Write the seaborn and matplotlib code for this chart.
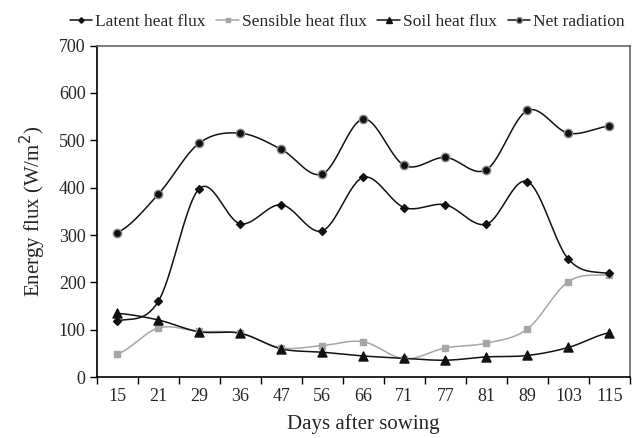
import numpy as np
import pandas as pd
import matplotlib
matplotlib.use("Agg")
import matplotlib.pyplot as plt
import seaborn as sns
from matplotlib.lines import Line2D

days = ["15", "21", "29", "36", "47", "56", "66", "71", "77", "81", "89", "103", "115"]
latent = [119, 160, 398, 324, 364, 309, 422, 358, 364, 323, 413, 249, 219]
sensible = [49, 104, 97, 93, 62, 67, 75, 39, 62, 72, 102, 202, 216]
soil = [135, 121, 96, 93, 60, 53, 45, 40, 36, 43, 46, 63, 94]
net = [305, 386, 494, 515, 481, 429, 545, 447, 464, 438, 563, 515, 530]

sns.set_theme(style="white")
plt.rcParams["font.family"] = ["Liberation Serif", "DejaVu Serif"]

df = pd.DataFrame({"day": days, "Latent heat flux": latent,
                   "Sensible heat flux": sensible,
                   "Soil heat flux": soil, "Net radiation": net})
df["pos"] = np.arange(len(days))


def smooth(x, y, n=30, tension=0.5):
    """Cardinal (Catmull-Rom style) spline through the points for a smoothed line."""
    x = np.asarray(x, float)
    y = np.asarray(y, float)
    px = np.concatenate([[2 * x[0] - x[1]], x, [2 * x[-1] - x[-2]]])
    py = np.concatenate([[y[0]], y, [y[-1]]])
    xs, ys = [], []
    for i in range(1, len(px) - 2):
        t = np.linspace(0, 1, n, endpoint=(i == len(px) - 3))
        m1x = tension * (px[i + 1] - px[i - 1])
        m2x = tension * (px[i + 2] - px[i])
        m1y = tension * (py[i + 1] - py[i - 1])
        m2y = tension * (py[i + 2] - py[i])
        h00 = 2 * t**3 - 3 * t**2 + 1
        h10 = t**3 - 2 * t**2 + t
        h01 = -2 * t**3 + 3 * t**2
        h11 = t**3 - t**2
        xs.append(h00 * px[i] + h10 * m1x + h01 * px[i + 1] + h11 * m2x)
        ys.append(h00 * py[i] + h10 * m1y + h01 * py[i + 1] + h11 * m2y)
    return np.concatenate(xs), np.concatenate(ys)


fig = plt.figure(figsize=(6.37, 4.38), dpi=100)
ax = fig.add_axes([0.1518, 0.1386, 0.8372, 0.7575])

styles = {
    "Latent heat flux": dict(color="#111111", marker="D", ms=4, mfc="#111111", mec="#111111", lw=1.1),
    "Sensible heat flux": dict(color="#a6a6a6", marker="s", ms=5, mfc="#a6a6a6", mec="#a6a6a6", lw=1.1),
    "Soil heat flux": dict(color="#111111", marker="^", ms=6.5, mfc="#111111", mec="#111111", lw=1.1),
    "Net radiation": dict(color="#111111", marker="o", ms=6, mfc="#111111", mec="#8a8a8a", lw=1.1),
}

order = ["Sensible heat flux", "Soil heat flux", "Latent heat flux", "Net radiation"]
for name in order:
    st = styles[name]
    sx, sy = smooth(df["pos"], df[name])
    sns.lineplot(x=sx, y=sy, ax=ax, color=st["color"], lw=st["lw"], sort=False,
                 estimator=None)
    sns.scatterplot(x=df["pos"], y=df[name], ax=ax, marker=st["marker"],
                    s=st["ms"] ** 2, color=st["mfc"], edgecolor=st["mec"],
                    linewidth=1.0, zorder=4)

ax.set_xlim(-0.5, len(days) - 0.5)
ax.set_ylim(0, 700)
ax.set_yticks(range(0, 701, 100))
ax.set_xticks(np.arange(len(days)))
ax.set_xticklabels(days)
ax.set_xticks(np.arange(-0.5, len(days), 1), minor=True)
ax.tick_params(axis="x", which="major", length=0, pad=8, labelsize=13)
ax.tick_params(axis="x", which="minor", length=5, width=1, color="black", direction="out")
ax.tick_params(axis="y", length=5, width=1, color="black", direction="out", labelsize=13, pad=3)
ax.tick_params(bottom=True, left=True, which="both")
ax.xaxis.set_tick_params(which="major", bottom=False)

for side in ["left", "bottom"]:
    ax.spines[side].set_color("black")
    ax.spines[side].set_linewidth(1.2)
for side in ["top", "right"]:
    ax.spines[side].set_color("#666666")
    ax.spines[side].set_linewidth(1.2)

ax.set_xlabel("Days after sowing", fontsize=15, labelpad=6)
ax.set_ylabel("Energy flux (W/m$^2$)", fontsize=15, labelpad=8)
ax.grid(False)

handles = []
for name in ["Latent heat flux", "Sensible heat flux", "Soil heat flux", "Net radiation"]:
    st = styles[name]
    handles.append(Line2D([0], [0], color=st["color"], lw=st["lw"], marker=st["marker"],
                          ms=st["ms"] * 0.7, mfc=st["mfc"], mec=st["mec"]))
fig.legend(handles, ["Latent heat flux", "Sensible heat flux", "Soil heat flux", "Net radiation"],
           loc="upper right", bbox_to_anchor=(1.0, 0.995), ncol=4, frameon=False,
           fontsize=12.5, handlelength=1.3, handletextpad=0.18, columnspacing=0.6,
           borderaxespad=0.3)

fig.savefig("out.png", dpi=100, facecolor="white")
